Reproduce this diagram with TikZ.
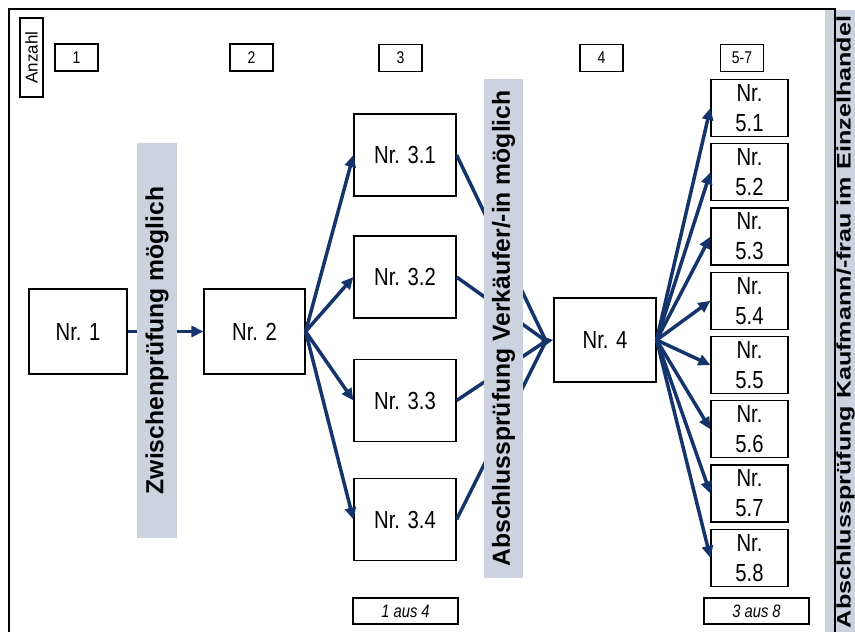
\documentclass[tikz,border=0pt]{standalone}
\usepackage{graphicx}
\usepackage{fontspec}
\setmainfont{Liberation Sans}
\newfontfamily\narrowfont{Liberation Sans}[FakeStretch=0.82]
\usetikzlibrary{arrows.meta}
\definecolor{arrowblue}{RGB}{22,52,108}
\definecolor{bandgrey}{RGB}{204,211,222}
\begin{document}
\begin{tikzpicture}[x=1pt,y=-1pt,
  box/.style={draw, line width=1.2pt, inner sep=0pt, font=\narrowfont\fontsize{24.7}{30}\selectfont},
  numbox/.style={draw, line width=1.2pt, inner sep=0pt, minimum width=43, minimum height=27, font=\narrowfont\fontsize{17}{17}\selectfont},
  selbox/.style={draw, line width=1.2pt, inner sep=0pt, minimum width=105, minimum height=26, font=\narrowfont\itshape\fontsize{18}{18}\selectfont},
  band/.style={fill=bandgrey, rotate=90, inner sep=0pt, font=\bfseries\fontsize{24.7}{24.7}\selectfont},
  arr/.style={draw=arrowblue, line width=3.5pt, -{Triangle[length=12pt,width=11pt]}},
  ln/.style={draw=arrowblue, line width=3.5pt}]
\useasboundingbox (0,0) rectangle (855,632);
\fill[bandgrey] (825,10) rectangle (855,632);
\draw[line width=1.2pt] (9,632) -- (9,9) -- (835,9) -- (835,632);
\node[rotate=90, font=\bfseries\fontsize{19.5}{19.5}\selectfont] (title) at (845.5,322) {\scalebox{1.29}[1]{Abschlussprüfung Kaufmann/-frau im Einzelhandel}};
\node[numbox, rotate=90, minimum width=79, minimum height=23, font=\fontsize{17}{17}\selectfont] (anzahl) at (31.5,57.5) {Anzahl};
\node[numbox] (h1) at (76.5,57.5) {1};
\node[numbox] (h2) at (251.5,57.5) {2};
\node[numbox] (h3) at (400.5,58) {3};
\node[numbox] (h4) at (601.5,58) {4};
\node[numbox] (h5) at (742,58) {5-7};
\node[box, minimum width=98, minimum height=85] (n1) at (78,331.5) {Nr. 1};
\node[box, minimum width=101, minimum height=85] (n2) at (254.5,331.5) {Nr. 2};
\node[box, minimum width=102, minimum height=82] (n31) at (405,155) {Nr. 3.1};
\node[box, minimum width=102, minimum height=82] (n32) at (405,277) {Nr. 3.2};
\node[box, minimum width=102, minimum height=82] (n33) at (405,400.5) {Nr. 3.3};
\node[box, minimum width=102, minimum height=82] (n34) at (405,519.5) {Nr. 3.4};
\node[box, minimum width=102, minimum height=84] (n4) at (605,340) {Nr. 4};
\foreach \i in {1,...,8}
  \node[box, minimum width=77, minimum height=57, align=center] (n5\i) at (749.5,{108+64.26*(\i-1)}) {Nr.\\5.\i};
\node[selbox] (sel3) at (405.5,611) {1 aus 4};
\node[selbox] (sel5) at (756.5,611) {3 aus 8};
\coordinate (conv) at (546,341);
\draw[arr] (n1) -- (n2);
\foreach \j in {1,...,4}
  \draw[arr] (n2.east) -- (n3\j.west);
\foreach \j in {1,...,4}
  \draw[ln] (n3\j.east) -- (conv);
\draw[arr] (conv) -- (n4.west);
\foreach \i in {1,...,8}
  \draw[arr] (n4.east) -- (n5\i.west);
\node[band, minimum width=395, minimum height=40] (zwp) at (157,340.5) {Zwischenprüfung möglich};
\node[band, minimum width=499, minimum height=39] (abp) at (503.5,328.5) {Abschlussprüfung Verkäufer/-in möglich};
\end{tikzpicture}
\end{document}
